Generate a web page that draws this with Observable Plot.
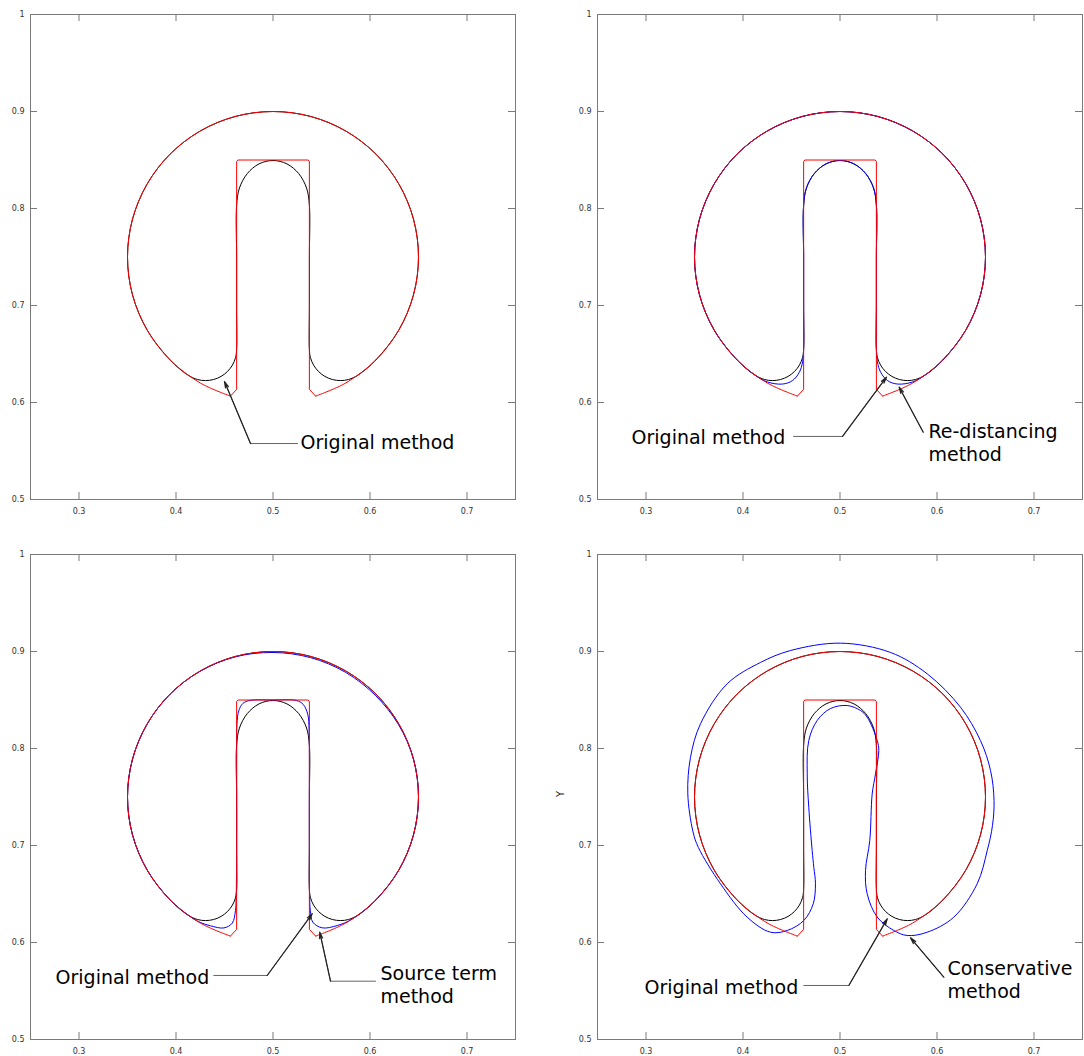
<!DOCTYPE html>
<html><head><meta charset="utf-8">
<script src="https://cdn.jsdelivr.net/npm/d3@7"></script>
<script src="https://cdn.jsdelivr.net/npm/@observablehq/plot@0.6"></script>
<style>
body{margin:0;background:#fff;}
#wrap{position:relative;width:1084px;height:1056px;overflow:hidden;background:#fff;}
#wrap svg{position:absolute;}
</style></head><body><div id="wrap"></div>
<script>
// ---- tick values ----
const xTicks = [0.3, 0.4, 0.5, 0.6, 0.7];
const yTicks = [0.5, 0.6, 0.7, 0.8, 0.9, 1];
const yAxisTitle = ["Y"];

// ---- exact (initial) Zalesak disk, red: outer arc and slot polyline ----
const exactArc = [
  [0.5439,0.6066],[0.5750,0.6201],[0.6061,0.6439],[0.6299,0.6750],[0.6449,0.7112],[0.6500,0.7500],
  [0.6449,0.7888],[0.6299,0.8250],[0.6061,0.8561],[0.5750,0.8799],[0.5388,0.8949],[0.5000,0.9000],
  [0.4612,0.8949],[0.4250,0.8799],[0.3939,0.8561],[0.3701,0.8250],[0.3551,0.7888],[0.3500,0.7500],
  [0.3551,0.7112],[0.3701,0.6750],[0.3939,0.6439],[0.4250,0.6201],[0.4561,0.6066]
];
const exactSlot = [
  [0.4561,0.6066],[0.4625,0.6135],[0.4625,0.8485],[0.4638,0.8500],[0.5362,0.8500],
  [0.5375,0.8485],[0.5375,0.6135],[0.5439,0.6066]
];

// ---- original method, black (closed contour) ----
const originalMethod = [
  [0.5882,0.6286],[0.6061,0.6439],[0.6299,0.6750],[0.6449,0.7112],[0.6500,0.7500],[0.6449,0.7888],
  [0.6299,0.8250],[0.6061,0.8561],[0.5750,0.8799],[0.5388,0.8949],[0.5000,0.9000],[0.4612,0.8949],
  [0.4250,0.8799],[0.3939,0.8561],[0.3701,0.8250],[0.3551,0.7888],[0.3500,0.7500],[0.3551,0.7112],
  [0.3701,0.6750],[0.3939,0.6439],[0.4118,0.6286],
  [0.4222,0.6237],[0.4305,0.6226],[0.4388,0.6237],[0.4465,0.6269],[0.4531,0.6320],[0.4582,0.6386],
  [0.4614,0.6463],[0.4625,0.6546],[0.4625,0.7000],[0.4625,0.7500],[0.4625,0.8035],
  [0.4654,0.8211],[0.4735,0.8360],[0.4856,0.8460],[0.5000,0.8495],[0.5144,0.8460],[0.5265,0.8360],
  [0.5346,0.8211],[0.5375,0.8035],[0.5375,0.7500],[0.5375,0.7000],[0.5375,0.6546],
  [0.5386,0.6463],[0.5418,0.6386],[0.5469,0.6320],[0.5535,0.6269],[0.5612,0.6237],[0.5695,0.6226],
  [0.5778,0.6237]
];

// ---- re-distancing method, blue ----
const redistancingMethod = [
  [0.5882,0.6286],[0.6061,0.6439],[0.6299,0.6750],[0.6449,0.7112],[0.6500,0.7500],[0.6449,0.7888],
  [0.6299,0.8250],[0.6061,0.8561],[0.5750,0.8799],[0.5388,0.8949],[0.5000,0.9000],[0.4612,0.8949],
  [0.4250,0.8799],[0.3939,0.8561],[0.3701,0.8250],[0.3551,0.7888],[0.3500,0.7500],[0.3551,0.7112],
  [0.3701,0.6750],[0.3939,0.6439],[0.4118,0.6286],
  [0.4250,0.6212],[0.4406,0.6190],[0.4509,0.6225],[0.4580,0.6310],[0.4615,0.6420],[0.4625,0.6560],
  [0.4625,0.7000],[0.4625,0.7500],[0.4625,0.8035],
  [0.4654,0.8211],[0.4735,0.8360],[0.4856,0.8460],[0.5000,0.8495],[0.5144,0.8460],[0.5265,0.8360],
  [0.5346,0.8211],[0.5375,0.8035],[0.5375,0.7500],[0.5375,0.7000],[0.5375,0.6560],
  [0.5385,0.6420],[0.5420,0.6310],[0.5491,0.6225],[0.5594,0.6190],[0.5750,0.6212]
];

// ---- source term method, blue ----
const sourceTermMethod = [
  [0.5817,0.6242],[0.6061,0.6439],[0.6299,0.6750],[0.6449,0.7112],[0.6500,0.7500],[0.6449,0.7888],
  [0.6295,0.8245],[0.6053,0.8550],[0.5745,0.8787],[0.5386,0.8937],[0.5000,0.8990],[0.4612,0.8945],
  [0.4250,0.8797],[0.3939,0.8561],[0.3701,0.8250],[0.3551,0.7888],[0.3500,0.7500],[0.3551,0.7112],
  [0.3701,0.6750],[0.3939,0.6439],[0.4161,0.6257],
  [0.4250,0.6207],[0.4356,0.6172],[0.4493,0.6150],[0.4580,0.6200],[0.4613,0.6330],[0.4620,0.6450],
  [0.4625,0.7000],[0.4625,0.7500],[0.4625,0.8000],[0.4628,0.8250],[0.4648,0.8392],[0.4690,0.8465],
  [0.4760,0.8495],[0.5000,0.8500],[0.5240,0.8495],[0.5311,0.8455],[0.5359,0.8350],[0.5372,0.8200],
  [0.5375,0.8000],[0.5375,0.7500],[0.5375,0.7000],[0.5378,0.6450],[0.5385,0.6330],[0.5410,0.6210],
  [0.5507,0.6151],[0.5662,0.6175]
];

// ---- conservative method, blue ----
const conservativeMethod = [
  [0.5280,0.6502],[0.5384,0.6261],[0.5555,0.6124],[0.5693,0.6072],[0.5899,0.6106],[0.6173,0.6261],
  [0.6414,0.6605],[0.6518,0.6948],[0.6572,0.7206],[0.6588,0.7464],[0.6552,0.7773],[0.6448,0.8082],
  [0.6242,0.8426],[0.5899,0.8770],[0.5521,0.8990],[0.5005,0.9086],[0.4490,0.9010],[0.4180,0.8887],
  [0.3837,0.8667],[0.3562,0.8255],[0.3459,0.7910],[0.3431,0.7533],[0.3485,0.7140],[0.3540,0.6980],
  [0.3768,0.6605],[0.4043,0.6261],[0.4284,0.6106],[0.4456,0.6124],[0.4627,0.6227],[0.4724,0.6399],
  [0.4747,0.6605],[0.4730,0.6776],[0.4713,0.6948],[0.4678,0.7395],[0.4662,0.7739],[0.4678,0.8082],
  [0.4765,0.8289],[0.4902,0.8412],[0.5074,0.8443],[0.5211,0.8392],[0.5280,0.8323],[0.5384,0.8082],
  [0.5400,0.7979],[0.5366,0.7739],[0.5332,0.7533],[0.5307,0.7052],[0.5263,0.6742]
];

// ---- annotations (labels and leader lines, last segment carries the arrow head) ----
const labelsP1 = [{x:0.5284, y:0.5598, text:"Original method"}];
const leadersP1 = [[[0.5253,0.5577],[0.4768,0.5577],[0.4500,0.6216]]];
const labelsP2 = [{x:0.2851, y:0.5650, text:"Original method"}, {x:0.5912, y:0.5593, text:"Re-distancing\nmethod"}];
const leadersP2 = [[[0.4521,0.5650],[0.5026,0.5650],[0.5479,0.6261]], [[0.5858,0.5694],[0.5610,0.6158]]];
const labelsP3 = [{x:0.2758, y:0.5650, text:"Original method"}, {x:0.6108, y:0.5568, text:"Source term\nmethod"}];
const leadersP3 = [[[0.4390,0.5660],[0.4940,0.5660],[0.5404,0.6296]], [[0.6057,0.5601],[0.5593,0.5601],[0.5482,0.6106]]];
const labelsP4 = [{x:0.2985, y:0.5546, text:"Original method"}, {x:0.6108, y:0.5624, text:"Conservative\nmethod"}];
const leadersP4 = [[[0.4627,0.5557],[0.5091,0.5557],[0.5487,0.6244]], [[0.6070,0.5642],[0.5727,0.6048]]];

// ---- drawing ----
const frameColor = "#7a7a7a";
const px = d => d[0], py = d => d[1];

function panel({blue, labels, leaders, right, showY}) {
  const ml = right ? 55 : 30, mr = right ? 2 : 27;
  const leaderPts = leaders.flatMap((pts, i) => pts.map(p => ({x: p[0], y: p[1], id: i})));
  const heads = leaders.map(pts => {
    const a = pts[pts.length - 2], b = pts[pts.length - 1];
    return {x1: a[0], y1: a[1], x2: b[0], y2: b[1]};
  });
  const marks = [
    Plot.frame({stroke: frameColor}),
    Plot.tickX(xTicks, {x: d => d, insetTop: 478, stroke: frameColor}),
    Plot.tickX(xTicks, {x: d => d, insetBottom: 478, stroke: frameColor}),
    Plot.tickY(yTicks, {y: d => d, insetRight: 478, stroke: frameColor}),
    Plot.tickY(yTicks, {y: d => d, insetLeft: 478, stroke: frameColor}),
    Plot.axisX(xTicks, {tickSize: 0, tickPadding: 9, fontSize: 8, tickFormat: d => String(d), label: null, color: "#333"}),
    Plot.axisY(yTicks, {tickSize: 0, tickPadding: 6, fontSize: 8, tickFormat: d => String(d), label: null, color: "#333"}),
    Plot.line(originalMethod, {x: px, y: py, curve: "catmull-rom-closed", stroke: "black", strokeWidth: 1})
  ];
  if (blue) marks.push(Plot.line(blue, {x: px, y: py, curve: "catmull-rom-closed", stroke: "blue", strokeWidth: 1}));
  marks.push(
    Plot.line(exactArc, {x: px, y: py, curve: "catmull-rom", stroke: "red", strokeWidth: 1}),
    Plot.line(exactSlot, {x: px, y: py, curve: "linear", stroke: "red", strokeWidth: 1}),
    Plot.line(leaderPts, {x: "x", y: "y", z: "id", stroke: "#555", strokeWidth: 0.9}),
    Plot.arrow(heads, {x1: "x1", y1: "y1", x2: "x2", y2: "y2", headLength: 8, headAngle: 28, stroke: "#222", strokeWidth: 1.2}),
    Plot.text(labels, {x: "x", y: "y", text: "text", textAnchor: "start", fontSize: 19, lineHeight: 1.2, fill: "black"})
  );
  if (showY) marks.push(Plot.text(yAxisTitle, {text: d => d, frameAnchor: "left", dx: -37, rotate: -90, fontSize: 10, fill: "#222"}));
  return Plot.plot({
    width: 542, height: 540,
    marginLeft: ml, marginRight: mr, marginTop: 14, marginBottom: 41,
    x: {domain: [0.25, 0.75], label: null},
    y: {domain: [0.5, 1], label: null},
    style: {fontFamily: "DejaVu Sans", fontSize: "8px", background: "white", color: "#333", overflow: "visible"},
    marks
  });
}

const wrap = document.getElementById("wrap");
const specs = [
  {blue: null, labels: labelsP1, leaders: leadersP1, right: false, showY: false, left: 0, top: 0},
  {blue: redistancingMethod, labels: labelsP2, leaders: leadersP2, right: true, showY: false, left: 542, top: 0},
  {blue: sourceTermMethod, labels: labelsP3, leaders: leadersP3, right: false, showY: false, left: 0, top: 540},
  {blue: conservativeMethod, labels: labelsP4, leaders: leadersP4, right: true, showY: true, left: 542, top: 540}
];
for (const s of specs) {
  const svg = panel(s);
  svg.style.left = s.left + "px";
  svg.style.top = s.top + "px";
  wrap.appendChild(svg);
}
</script></body></html>
